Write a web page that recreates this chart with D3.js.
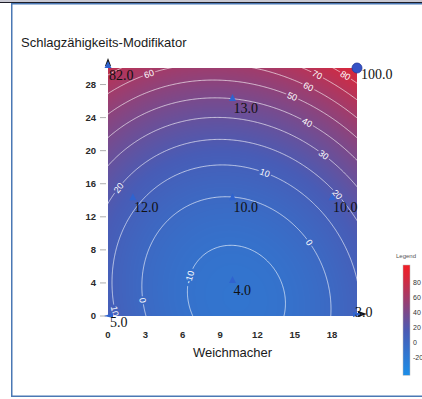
<!DOCTYPE html>
<html>
<head>
<meta charset="utf-8">
<script src="https://cdn.jsdelivr.net/npm/d3@7"></script>
<style>
  body { margin: 0; background: #fff; }
  svg { display: block; }
</style>
</head>
<body>
<svg id="chart" width="422" height="399"></svg>
<script>
// Design points: Weichmacher (x), Schlagzähigkeits-Modifikator (y), measured response
const weichmacher = [0, 0, 10, 20, 2, 10, 18, 10, 20];
const modifikator = [0, 30, 26, 30, 14, 14, 14, 4, 0];
const response = [5.0, 82.0, 13.0, 100.0, 12.0, 10.0, 10.0, 4.0, 3.0];
const markerShapes = ["left", "up", "up", "circle", "up", "up", "up", "up", "right"];

const xTicks = [0, 3, 6, 9, 12, 15, 18];
const yTicks = [0, 4, 8, 12, 16, 20, 24, 28];
const contourLevels = [-10, 0, 10, 20, 30, 40, 50, 60, 70, 80];
const legendTicks = [80, 60, 40, 20, 0, -20];
const legendExtent = [-43, 104];
const xDomain = [0, 20];
const yDomain = [0, 30];

// ---- quadratic response surface, least squares fit on the design points ----
function terms(x, y) { return [1, x, y, x * x, y * y, x * y]; }
function fitQuadratic(xs, ys, zs) {
  const p = 6;
  const A = Array.from({ length: p }, () => new Array(p + 1).fill(0));
  xs.forEach((x, k) => {
    const t = terms(x, ys[k]);
    for (let i = 0; i < p; i++) {
      for (let j = 0; j < p; j++) A[i][j] += t[i] * t[j];
      A[i][p] += t[i] * zs[k];
    }
  });
  for (let c = 0; c < p; c++) {
    let piv = c;
    for (let r = c + 1; r < p; r++) if (Math.abs(A[r][c]) > Math.abs(A[piv][c])) piv = r;
    [A[c], A[piv]] = [A[piv], A[c]];
    for (let r = 0; r < p; r++) {
      if (r === c) continue;
      const f = A[r][c] / A[c][c];
      for (let j = c; j <= p; j++) A[r][j] -= f * A[c][j];
    }
  }
  return A.map((row, i) => row[p] / row[i]);
}
const coef = fitQuadratic(weichmacher, modifikator, response);
const surface = (x, y) => d3.sum(terms(x, y), (t, i) => t * coef[i]);

// ---- layout ----
const svg = d3.select("#chart");
const plot = { left: 108, right: 357, top: 68, bottom: 316 };
const xScale = d3.scaleLinear().domain(xDomain).range([plot.left, plot.right]);
const yScale = d3.scaleLinear().domain(yDomain).range([plot.bottom, plot.top]);

const color = d3.scaleLinear()
  .domain([legendExtent[0], 15, 100])
  .range(["rgb(28,142,232)", "rgb(72,92,182)", "rgb(242,30,38)"])
  .clamp(true);

// page frame
svg.append("rect").attr("x", 0).attr("y", 0).attr("width", 422).attr("height", 2).attr("fill", "#c9c9d3");
svg.append("rect").attr("x", 0).attr("y", 2).attr("width", 422).attr("height", 1).attr("fill", "#1e1e28");
svg.append("rect").attr("x", 11).attr("y", 3).attr("width", 411).attr("height", 1.5).attr("fill", "#4a78b4");
svg.append("rect").attr("x", 11).attr("y", 3).attr("width", 1.5).attr("height", 394).attr("fill", "#4a78b4");
svg.append("rect").attr("x", 11).attr("y", 395.5).attr("width", 411).attr("height", 1.5).attr("fill", "#4a78b4");

// ---- filled surface ----
const pw = plot.right - plot.left, ph = plot.bottom - plot.top;
const canvas = document.createElement("canvas");
canvas.width = pw; canvas.height = ph;
const ctx = canvas.getContext("2d");
const img = ctx.createImageData(pw, ph);
for (let j = 0; j < ph; j++) {
  const yv = yScale.invert(plot.top + j + 0.5);
  for (let i = 0; i < pw; i++) {
    const xv = xScale.invert(plot.left + i + 0.5);
    const c = d3.rgb(color(surface(xv, yv)));
    const o = (j * pw + i) * 4;
    img.data[o] = c.r; img.data[o + 1] = c.g; img.data[o + 2] = c.b; img.data[o + 3] = 255;
  }
}
ctx.putImageData(img, 0, 0);
svg.append("image")
  .attr("x", plot.left).attr("y", plot.top)
  .attr("width", pw).attr("height", ph)
  .attr("preserveAspectRatio", "none")
  .attr("href", canvas.toDataURL());

const defs = svg.append("defs");
defs.append("clipPath").attr("id", "plot-clip")
  .append("rect").attr("x", plot.left).attr("y", plot.top).attr("width", pw).attr("height", ph);

// ---- contour lines on a grid that extends past the plot edges ----
const step = 0.1, gx0 = -1, gy0 = -1;
const nx = Math.round((xDomain[1] + 2) / step) + 1;
const ny = Math.round((yDomain[1] + 2) / step) + 1;
const grid = new Array(nx * ny);
for (let j = 0; j < ny; j++)
  for (let i = 0; i < nx; i++)
    grid[i + j * nx] = surface(gx0 + i * step, gy0 + j * step);
const contours = d3.contours().size([nx, ny]).thresholds(contourLevels)(grid);
const toData = (gx, gy) => [gx0 + (gx - 0.5) * step, gy0 + (gy - 0.5) * step];
const contourPath = d3.geoPath(d3.geoTransform({
  point(px, py) { const d = toData(px, py); this.stream.point(xScale(d[0]), yScale(d[1])); }
}));

// label placement along each level line
const labelAnchors = [
  [80, 19, 29], [70, 16.8, 29.2], [60, 16.1, 27.8], [60, 3.2, 29.5], [50, 14.8, 26.5],
  [40, 16, 23.4], [30, 17.3, 19.4], [20, 18.4, 14.7], [20, 0.8, 15.6], [10, 12.6, 17.2],
  [10, 0.5, 0.6], [0, 16.1, 8.8], [0, 2.8, 1.9], [-10, 6.6, 4.7]
];
const labels = [];
labelAnchors.forEach(([level, ax, ay]) => {
  const c = contours.find(d => d.value === level);
  if (!c) return;
  const tx = xScale(ax), ty = yScale(ay);
  let best = null;
  c.coordinates.forEach(poly => poly.forEach(ring => {
    const pts = ring.map(p => { const d = toData(p[0], p[1]); return [xScale(d[0]), yScale(d[1])]; });
    pts.forEach((p, k) => {
      if (p[0] < plot.left || p[0] > plot.right || p[1] < plot.top || p[1] > plot.bottom) return;
      const dist = (p[0] - tx) ** 2 + (p[1] - ty) ** 2;
      if (!best || dist < best.dist) {
        const a = pts[Math.max(0, k - 3)], b = pts[Math.min(pts.length - 1, k + 3)];
        best = { dist, x: p[0], y: p[1], angle: Math.atan2(b[1] - a[1], b[0] - a[0]) * 180 / Math.PI };
      }
    });
  }));
  if (!best) return;
  let ang = best.angle;
  if (ang > 90) ang -= 180;
  if (ang < -90) ang += 180;
  labels.push({ level, x: best.x, y: best.y, angle: ang });
});

const labelFont = 9;
const mask = defs.append("mask").attr("id", "label-gaps").attr("maskUnits", "userSpaceOnUse")
  .attr("x", 0).attr("y", 0).attr("width", 422).attr("height", 399);
mask.append("rect").attr("width", 422).attr("height", 399).attr("fill", "#fff");
labels.forEach(l => {
  const w = String(l.level).length * labelFont * 0.56 + 3;
  mask.append("rect")
    .attr("x", -w / 2).attr("y", -labelFont * 0.5).attr("width", w).attr("height", labelFont)
    .attr("transform", `translate(${l.x},${l.y}) rotate(${l.angle})`)
    .attr("fill", "#000");
});

const contourLayer = svg.append("g").attr("clip-path", "url(#plot-clip)");
contourLayer.append("g").attr("mask", "url(#label-gaps)")
  .selectAll("path").data(contours).join("path")
  .attr("d", contourPath)
  .attr("fill", "none")
  .attr("stroke", "#fff")
  .attr("stroke-opacity", 0.8)
  .attr("stroke-width", 0.8);

contourLayer.selectAll("text.clabel").data(labels).join("text")
  .attr("class", "clabel")
  .attr("transform", d => `translate(${d.x},${d.y}) rotate(${d.angle})`)
  .attr("text-anchor", "middle")
  .attr("dy", "0.35em")
  .attr("font-family", "Liberation Sans, Arial, sans-serif")
  .attr("font-size", labelFont)
  .attr("fill", "#fff")
  .text(d => d.level);

// ---- axes ----
const tickFont = "Liberation Sans, Arial, sans-serif";
const yAxis = svg.append("g");
yAxis.selectAll("line").data(yTicks).join("line")
  .attr("x1", plot.left - 8).attr("x2", plot.left - 2)
  .attr("y1", d => yScale(d)).attr("y2", d => yScale(d))
  .attr("stroke", "#999").attr("stroke-width", 0.8);
yAxis.selectAll("text").data(yTicks).join("text")
  .attr("x", plot.left - 12).attr("y", d => yScale(d)).attr("dy", "0.35em")
  .attr("text-anchor", "end")
  .attr("font-family", tickFont).attr("font-size", 9.5).attr("font-weight", "bold").attr("fill", "#2a2a2a")
  .text(d => d);

svg.append("g").selectAll("text").data(xTicks).join("text")
  .attr("x", d => xScale(d)).attr("y", plot.bottom + 21.5)
  .attr("text-anchor", "middle")
  .attr("font-family", tickFont).attr("font-size", 9.5).attr("font-weight", "bold").attr("fill", "#2a2a2a")
  .text(d => d);

svg.append("text")
  .attr("x", (plot.left + plot.right) / 2).attr("y", 357)
  .attr("text-anchor", "middle")
  .attr("font-family", tickFont).attr("font-size", 13).attr("fill", "#1a1a1a")
  .text("Weichmacher");
svg.append("text")
  .attr("x", 21).attr("y", 47)
  .attr("font-family", tickFont).attr("font-size", 13).attr("fill", "#1a1a1a")
  .text("Schlagzähigkeits-Modifikator");

// axis arrow heads
svg.append("path")
  .attr("d", `M${plot.left},${plot.top - 10} L${plot.left + 3},${plot.top - 2} L${plot.left - 3},${plot.top - 2} Z`)
  .attr("fill", "#111");
svg.append("path")
  .attr("d", `M${plot.right + 10},${plot.bottom - 2} L${plot.right + 1},${plot.bottom - 5} L${plot.right + 1},${plot.bottom + 1} Z`)
  .attr("fill", "#111");

// ---- design point markers and value labels ----
const markerColor = "#2f63cf";
const pts = response.map((v, i) => ({ x: xScale(weichmacher[i]), y: yScale(modifikator[i]), v, shape: markerShapes[i] }));
const markers = svg.append("g");
pts.forEach(p => {
  if (p.shape === "circle") {
    markers.append("circle").attr("cx", p.x).attr("cy", p.y).attr("r", 5)
      .attr("fill", "#3552c6").attr("stroke", "#24379a").attr("stroke-width", 0.8);
  } else {
    let d;
    if (p.shape === "up") d = `M${p.x - 3.5},${p.y} L${p.x + 3.5},${p.y} L${p.x},${p.y - 7} Z`;
    else if (p.shape === "left") d = `M${p.x - 4},${p.y} L${p.x + 5},${p.y - 3} L${p.x + 5},${p.y + 2} Z`;
    else d = `M${p.x + 6},${p.y - 2} L${p.x - 4},${p.y - 4} L${p.x - 4},${p.y + 1} Z`;
    markers.append("path").attr("d", d).attr("fill", markerColor);
  }
});
const labelShift = { 0: [2, 11], 3: [4, 11], 8: [-2, 1] };
svg.append("g").selectAll("text").data(pts).join("text")
  .attr("x", (d, i) => d.x + (labelShift[i] ? labelShift[i][0] : 1))
  .attr("y", (d, i) => d.y + (labelShift[i] ? labelShift[i][1] : 12))
  .attr("font-family", "Liberation Serif, Times New Roman, serif")
  .attr("font-size", 14)
  .attr("fill", "#111")
  .text(d => d3.format(".1f")(d.v));

// ---- colour legend ----
const legendScale = d3.scaleLinear().domain([-20, 80]).range([358, 283]);
const grad = defs.append("linearGradient").attr("id", "legend-grad")
  .attr("x1", 0).attr("y1", 1).attr("x2", 0).attr("y2", 0);
d3.range(0, 1.0001, 0.1).forEach(t => {
  grad.append("stop").attr("offset", t)
    .attr("stop-color", color(legendExtent[0] + t * (legendExtent[1] - legendExtent[0])));
});
const barTop = legendScale(legendExtent[1]), barBottom = legendScale(legendExtent[0]);
svg.append("rect")
  .attr("x", 403).attr("y", barTop).attr("width", 7).attr("height", barBottom - barTop)
  .attr("fill", "url(#legend-grad)").attr("stroke", "#bbb").attr("stroke-width", 0.5);
svg.append("text").attr("x", 396).attr("y", 258)
  .attr("font-family", tickFont).attr("font-size", 6).attr("fill", "#555").text("Legend");
svg.append("g").selectAll("text").data(legendTicks).join("text")
  .attr("x", 413).attr("y", d => legendScale(d)).attr("dy", "0.35em")
  .attr("font-family", tickFont).attr("font-size", 7).attr("fill", "#333")
  .text(d => d);
</script>
</body>
</html>
